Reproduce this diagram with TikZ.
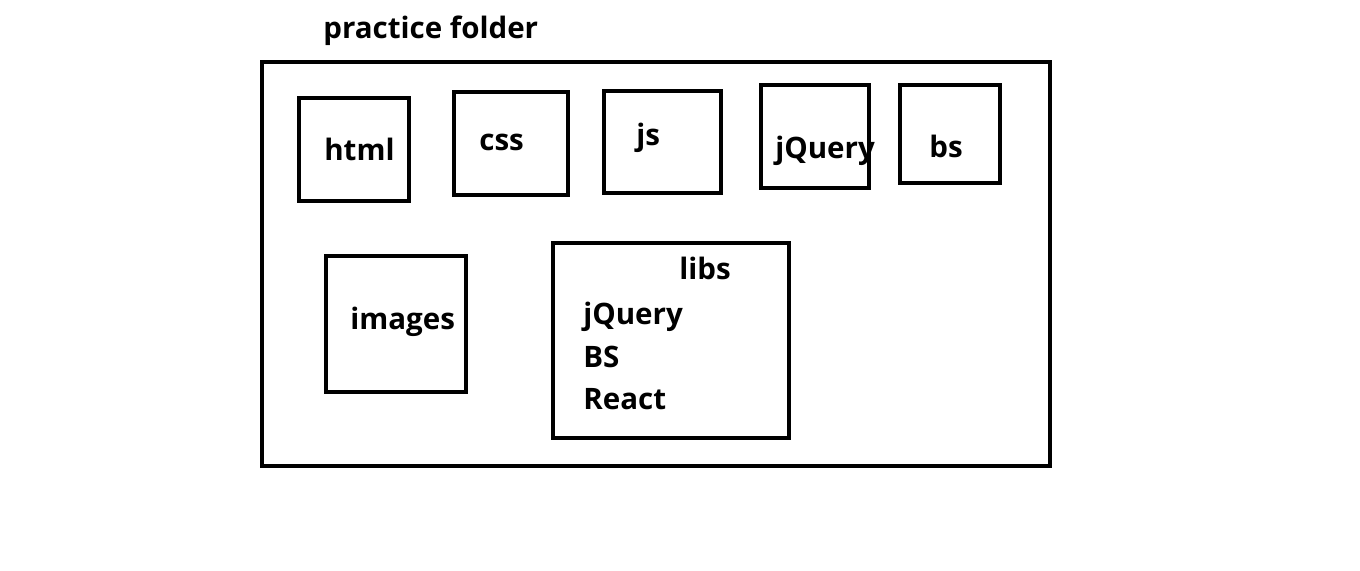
\documentclass[tikz,border=0pt]{standalone}
\usepackage{fontspec}
\setmainfont{Open Sans}
\tikzset{
  folder/.style={draw, line width=2.8pt, inner sep=0pt},
  foldertext/.style={anchor=base west, inner sep=0pt, font=\fontsize{16.8}{20}\selectfont\bfseries},
}
\begin{document}
\begin{tikzpicture}[x=0.02cm, y=-0.02cm]
    \useasboundingbox (0,0) rectangle (1360,571);
    % outer folder
    \node[folder, minimum width=788*0.02cm, minimum height=404*0.02cm] (practice) at (656,264) {};
    \node[foldertext] (practice-t) at (323,39) {practice folder};
    % sub folders, first row
    \node[folder, minimum width=110*0.02cm, minimum height=103*0.02cm] (html) at (354,149.5) {};
    \node[folder, minimum width=114*0.02cm, minimum height=103*0.02cm] (css) at (511,143.5) {};
    \node[folder, minimum width=117*0.02cm, minimum height=102*0.02cm] (js) at (662.5,142) {};
    \node[folder, minimum width=108*0.02cm, minimum height=103*0.02cm] (jquery) at (815,136.5) {};
    \node[folder, minimum width=100*0.02cm, minimum height=98*0.02cm] (bs) at (950,134) {};
    \node[foldertext] (html-t) at (324,161) {html};
    \node[foldertext] (css-t) at (479,151) {css};
    \node[foldertext] (js-t) at (636,146) {js};
    \node[foldertext] (jquery-t) at (775,159) {jQuery};
    \node[foldertext] (bs-t) at (929,157) {bs};
    % second row
    \node[folder, minimum width=140*0.02cm, minimum height=136*0.02cm] (images) at (396,324) {};
    \node[folder, minimum width=236*0.02cm, minimum height=195*0.02cm] (libs) at (671,340.5) {};
    \node[foldertext] (images-t) at (350,329) {images};
    \node[foldertext] (libs-t) at (679,279) {libs};
    \foreach \lib/\y in {jQuery/324, BS/367, React/409}
      \node[foldertext] (libs-\lib) at (583,\y) {\lib};
\end{tikzpicture}
\end{document}
